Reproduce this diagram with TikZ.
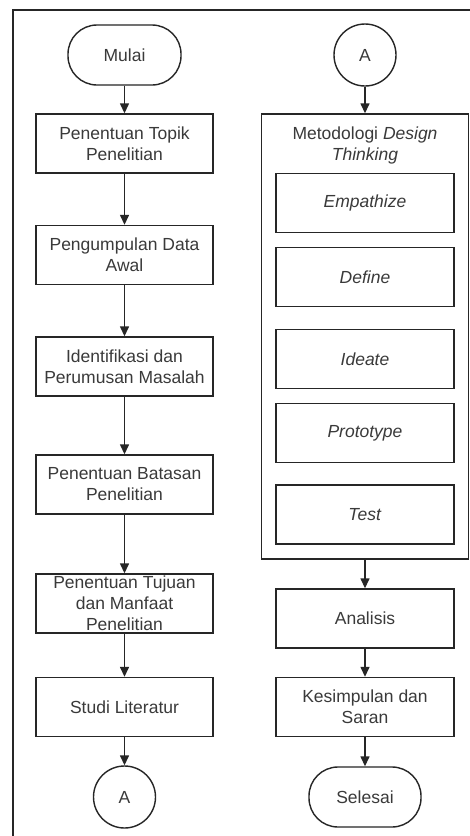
\documentclass[tikz,border=0pt]{standalone}
\usepackage{fontspec}
\setmainfont{Liberation Sans}
\usetikzlibrary{arrows.meta}
\definecolor{ln}{HTML}{262626}
\definecolor{txt}{HTML}{3A3A3A}
\begin{document}
\begin{tikzpicture}[x=1pt,y=-1pt,
  every node/.style={font=\fontsize{17.5}{21}\selectfont, text=txt, align=center, inner sep=0pt},
  box/.style={draw=ln, line width=1.4pt, minimum width=177pt, minimum height=59pt},
  term/.style={draw=ln, line width=1.4pt, rounded corners=29pt, minimum width=113pt, minimum height=60pt},
  conn/.style={draw=ln, line width=1.4pt, circle, minimum size=62pt},
  cont/.style={draw=ln, line width=1.4pt, minimum width=207pt, minimum height=445pt},
  arr/.style={draw=ln, line width=1.4pt, -{Triangle[length=10pt,width=9pt]}},
  frame/.style={draw=ln, line width=2.2pt}
]
\useasboundingbox (0,0) rectangle (470,836);
\fill[white] (0,0) rectangle (470,836);
\draw[frame] (470,10) -- (13,10) -- (13,836);

% left column
\node[term] (mulai) at (124.5,55) {Mulai};
\node[box] (b1) at (124.5,143.5) {Penentuan Topik\\Penelitian};
\node[box] (b2) at (124.5,255) {Pengumpulan Data\\Awal};
\node[box] (b3) at (124.5,366.5) {Identifikasi dan\\Perumusan Masalah};
\node[box] (b4) at (124.5,484.5) {Penentuan Batasan\\Penelitian};
\node[box] (b5) at (124.5,603.5) {Penentuan Tujuan\\dan Manfaat\\Penelitian};
\node[box] (b6) at (124.5,707) {Studi Literatur};
\node[conn] (aout) at (124.5,797) {A};

\draw[arr] (mulai) -- (b1);
\draw[arr] (b1) -- (b2);
\draw[arr] (b2) -- (b3);
\draw[arr] (b3) -- (b4);
\draw[arr] (b4) -- (b5);
\draw[arr] (b5) -- (b6);
\draw[arr] (b6) -- (aout);

% right column
\node[conn] (ain) at (365,55) {A};
\node[cont] (dt) at (365,336.5) {};
\node[anchor=north] (dttitle) at (365,127) {Metodologi \textit{Design}\\\textit{Thinking}};
\node[box, minimum width=178pt] (emp) at (365,203) {\textit{Empathize}};
\node[box, minimum width=178pt] (def) at (365,277) {\textit{Define}};
\node[box, minimum width=178pt] (ide) at (365,359) {\textit{Ideate}};
\node[box, minimum width=178pt] (pro) at (365,433) {\textit{Prototype}};
\node[box, minimum width=178pt] (tes) at (365,514.5) {\textit{Test}};
\node[box, minimum width=178pt] (ana) at (365,618.5) {Analisis};
\node[box, minimum width=178pt] (kes) at (365,707) {Kesimpulan dan\\Saran};
\node[term, minimum width=112pt] (sel) at (365,797) {Selesai};

\draw[arr] (ain) -- (dt);
\draw[arr] (dt) -- (ana);
\draw[arr] (ana) -- (kes);
\draw[arr] (kes) -- (sel);
\end{tikzpicture}
\end{document}
